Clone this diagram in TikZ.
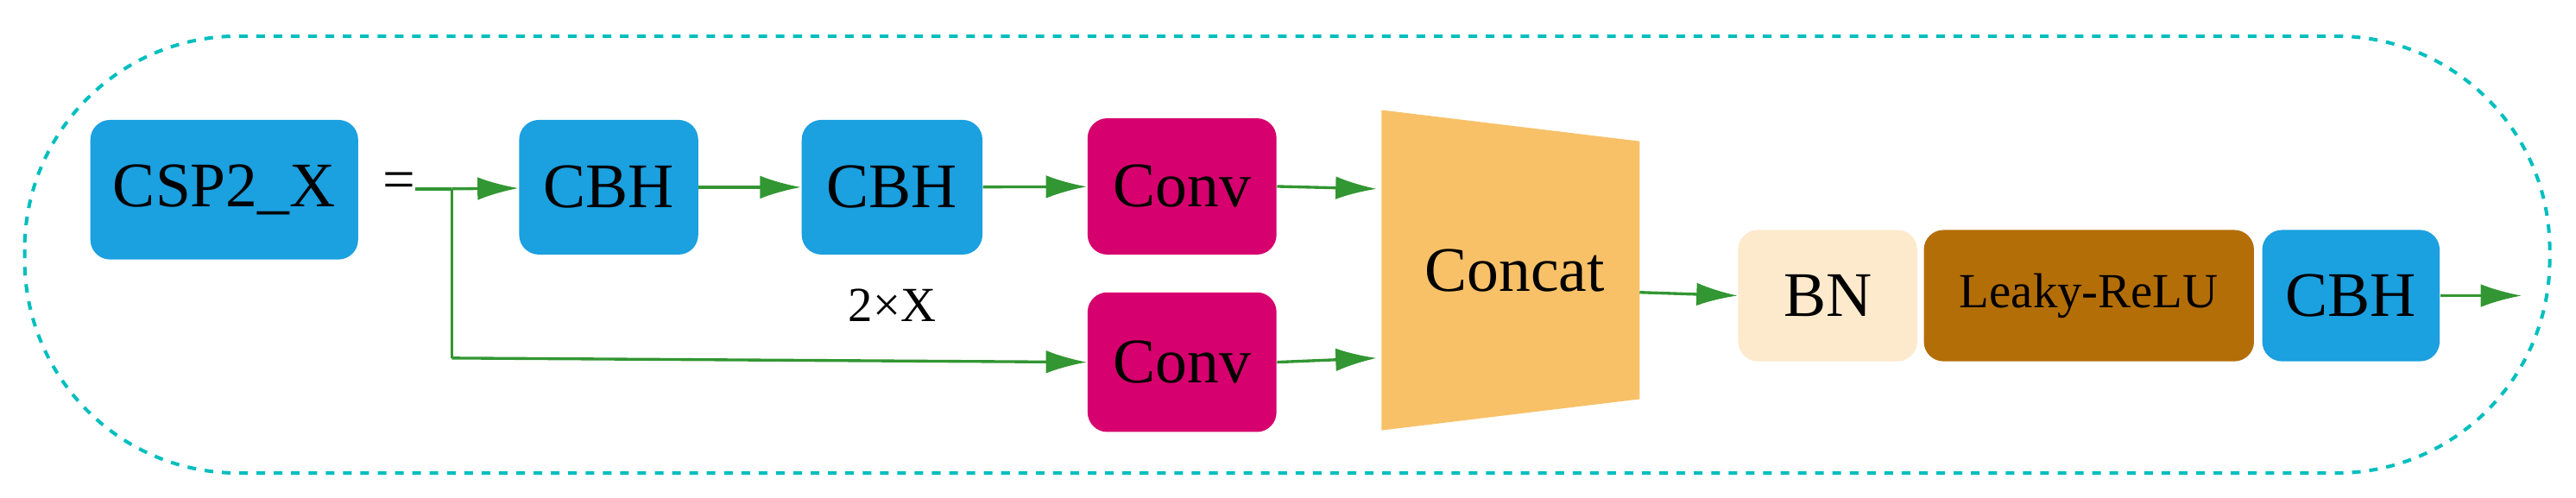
\documentclass[tikz,border=0pt]{standalone}
\usepackage{fontspec}
\setmainfont{Liberation Serif}
\usetikzlibrary{arrows.meta}
\definecolor{cbh}{RGB}{27,160,224}
\definecolor{conv}{RGB}{214,0,110}
\definecolor{cat}{RGB}{248,193,104}
\definecolor{bn}{RGB}{253,234,204}
\definecolor{relu}{RGB}{180,110,8}
\definecolor{arr}{RGB}{50,150,50}
\definecolor{dashc}{RGB}{0,190,190}
\begin{document}
\begin{tikzpicture}[x=0.02cm,y=-0.02cm,
  box/.style={draw=none,rounded corners=0.24cm,inner sep=0,font=\fontsize{22}{26}\selectfont},
  ar/.style={arr,line width=1pt,-{Latex[length=0.5cm,width=0.28cm]}},
  ln/.style={arr,line width=1pt}]
\useasboundingbox (0,0) rectangle (1568,303);
\draw[dashc,dashed,line width=1.2pt,rounded corners=2.6cm] (15,22) rectangle (1552,288);
\node[box,fill=cbh,minimum width=3.26cm,minimum height=1.7cm] (csp) at (136.5,115.5) {CSP2\_X};
\node[font=\fontsize{20}{24}\selectfont] (eq) at (243,113) {=};
\coordinate (s) at (253,115);
\coordinate (b) at (275,115);
\coordinate (bb) at (275,218);
\node[box,fill=cbh,minimum width=2.18cm,minimum height=1.64cm] (c1) at (370.5,114) {CBH};
\node[box,fill=cbh,minimum width=2.2cm,minimum height=1.64cm] (c2) at (543,114) {CBH};
\node[font=\fontsize{17}{20}\selectfont] (two) at (543,186) {2×X};
\node[box,fill=conv,minimum width=2.3cm,minimum height=1.66cm] (v1) at (719.5,113.5) {Conv};
\node[box,fill=conv,minimum width=2.3cm,minimum height=1.7cm] (v2) at (719.5,220.5) {Conv};
\draw[fill=cat,draw=none] (841,67) -- (998,86) -- (998,243) -- (841,262) -- cycle;
\node[font=\fontsize{22}{26}\selectfont] (cat) at (922,165) {Concat};
\coordinate (catl1) at (838,115);
\coordinate (catl2) at (838,218);
\coordinate (catr) at (998,178);
\node[box,fill=bn,minimum width=2.18cm,minimum height=1.6cm] (bn) at (1112.5,180) {BN};
\node[box,fill=relu,minimum width=4.02cm,minimum height=1.6cm,font=\fontsize{17}{20}\selectfont] (lr) at (1271.5,180) {Leaky-ReLU};
\node[box,fill=cbh,minimum width=2.16cm,minimum height=1.6cm] (c3) at (1431,180) {CBH};
\coordinate (end) at (1535,180);
\draw[ln] (s) -- (b);
\draw[ar] (b) -- (c1);
\draw[ln] (b) -- (bb);
\draw[ar] (bb) -- (v2.west);
\draw[ar] (c1) -- (c2);
\draw[ar] (c2) -- (v1);
\draw[ar] (v1.east) -- (catl1);
\draw[ar] (v2.east) -- (catl2);
\draw[ar] (catr) -- (bn.west);
\draw[ar] (c3.east) -- (end);
\end{tikzpicture}
\end{document}
